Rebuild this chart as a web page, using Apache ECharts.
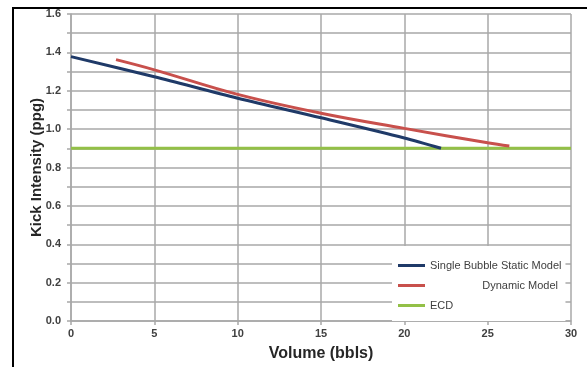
<!DOCTYPE html>
<html>
<head>
<meta charset="utf-8">
<script src="https://cdn.jsdelivr.net/npm/echarts@6/dist/echarts.min.js"></script>
<style>
html,body{margin:0;padding:0;background:#fff;}
#c{width:587px;height:367px;}
</style>
</head>
<body>
<div id="c"></div>
<script>
// Data
var staticX = [0, 5, 10, 15, 20, 22.2];
var staticY = [1.378, 1.273, 1.161, 1.059, 0.954, 0.900];
var dynamicX = [2.7, 5, 10, 15, 20, 25, 26.3];
var dynamicY = [1.362, 1.309, 1.181, 1.083, 1.004, 0.929, 0.912];
var ecdX = [0, 30];
var ecdY = [0.9, 0.9];
var seriesNames = ['Single Bubble Static Model', 'Dynamic Model', 'ECD'];
var xTicks = [0, 5, 10, 15, 20, 25, 30];
var yTicks = [0.0, 0.2, 0.4, 0.6, 0.8, 1.0, 1.2, 1.4, 1.6];

function pairs(xs, ys) { return xs.map(function (x, i) { return [x, ys[i]]; }); }

var FONT = "'Liberation Sans', Arial, sans-serif";
var gridColor = '#a8a8a8';

var chart = echarts.init(document.getElementById('c'), null, {renderer: 'canvas'});
chart.setOption({
  animation: false,
  backgroundColor: '#ffffff',
  grid: {left: 71, right: 16, top: 14, bottom: 44, containLabel: false},
  graphic: [
    {type: 'line', shape: {x1: 12, y1: 8, x2: 587, y2: 8}, style: {stroke: '#000', lineWidth: 2}},
    {type: 'line', shape: {x1: 13, y1: 8, x2: 13, y2: 367}, style: {stroke: '#000', lineWidth: 2}}
  ],
  xAxis: {
    type: 'value',
    min: xTicks[0], max: xTicks[xTicks.length - 1], interval: 5,
    name: 'Volume (bbls)', nameLocation: 'middle', nameGap: 25, nameMoveOverlap: false,
    nameTextStyle: {fontFamily: FONT, fontWeight: 'bold', fontSize: 16, color: '#262626'},
    axisLine: {show: true, lineStyle: {color: gridColor, width: 1.5}},
    axisTick: {show: true, length: 4, lineStyle: {color: gridColor, width: 1.5}},
    axisLabel: {fontFamily: FONT, fontWeight: 'bold', fontSize: 11, color: '#404040', margin: 7},
    splitLine: {show: true, lineStyle: {color: gridColor, width: 1.5}}
  },
  yAxis: {
    type: 'value',
    min: yTicks[0], max: yTicks[yTicks.length - 1], interval: 0.2,
    name: 'Kick Intensity (ppg)', nameLocation: 'middle', nameGap: 27, nameMoveOverlap: false,
    nameTextStyle: {fontFamily: FONT, fontWeight: 'bold', fontSize: 15, color: '#262626'},
    axisLine: {show: true, lineStyle: {color: gridColor, width: 1.5}},
    axisTick: {show: true, length: 4, lineStyle: {color: gridColor, width: 1.5}},
    minorTick: {show: true, splitNumber: 2, length: 4, lineStyle: {color: gridColor, width: 1.5}},
    minorSplitLine: {show: true, lineStyle: {color: gridColor, width: 1.5}},
    axisLabel: {fontFamily: FONT, fontWeight: 'bold', fontSize: 11, color: '#404040', margin: 10,
      formatter: function (v) { return v.toFixed(1); }},
    splitLine: {show: true, lineStyle: {color: gridColor, width: 1.5}}
  },
  legend: {
    orient: 'vertical',
    left: 392, top: 246,
    padding: [14, 4, 10, 6],
    backgroundColor: '#ffffff',
    icon: 'rect',
    itemWidth: 27, itemHeight: 3,
    itemGap: 9,
    data: seriesNames,
    textStyle: {
      fontFamily: FONT, fontSize: 11, color: '#404040',
      rich: {
        l: {fontFamily: FONT, fontSize: 11, color: '#404040', width: 133, align: 'left'},
        r: {fontFamily: FONT, fontSize: 11, color: '#404040', width: 128, align: 'right'}
      }
    },
    formatter: function (n) { return n === 'Dynamic Model' ? '{r|' + n + '}' : '{l|' + n + '}'; }
  },
  series: [
    {name: seriesNames[0], type: 'line', data: pairs(staticX, staticY), symbol: 'none',
      smooth: 0.3, lineStyle: {color: '#1f3a68', width: 3}, itemStyle: {color: '#1f3a68'}, z: 3},
    {name: seriesNames[1], type: 'line', data: pairs(dynamicX, dynamicY), symbol: 'none',
      smooth: 0.4, lineStyle: {color: '#c8504c', width: 3}, itemStyle: {color: '#c8504c'}, z: 3},
    {name: seriesNames[2], type: 'line', data: pairs(ecdX, ecdY), symbol: 'none',
      lineStyle: {color: '#93c047', width: 3}, itemStyle: {color: '#93c047'}, z: 2}
  ]
});
</script>
</body>
</html>
